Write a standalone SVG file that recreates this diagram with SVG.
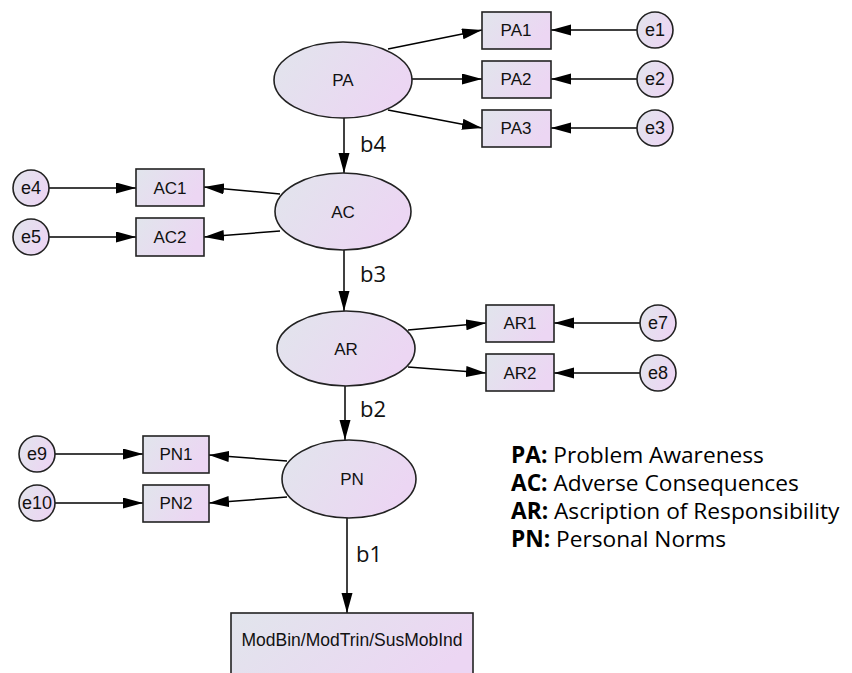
<svg xmlns="http://www.w3.org/2000/svg" width="852" height="673" viewBox="0 0 852 673">
<defs>
<linearGradient id="g" x1="0" y1="0" x2="1" y2="0.4">
<stop offset="0" stop-color="#e1e5ec"/>
<stop offset="1" stop-color="#ecd6f3"/>
</linearGradient>
<marker id="ah" markerUnits="userSpaceOnUse" markerWidth="21" markerHeight="12" refX="20" refY="5.5" orient="auto">
<path d="M0,0 L20,5.5 L0,11 z" fill="#000"/>
</marker>
</defs>
<style>
.n{fill:url(#g);stroke:#222;stroke-width:1.6}
.t{font-family:"Liberation Sans",Arial,sans-serif;font-size:17px;fill:#111;text-anchor:middle}
.te{font-family:"Liberation Sans",Arial,sans-serif;font-size:18px;fill:#111;text-anchor:middle}
.c{stroke:#000;stroke-width:1.5;fill:none;marker-end:url(#ah)}
.b{font-family:"Open Sans","Noto Sans",sans-serif;font-size:22px;fill:#111}
.lg{font-family:"Open Sans","Noto Sans",sans-serif;font-size:22.7px;fill:#000}
</style>
<rect width="852" height="673" fill="#fff"/>
<g id="connectors">
<line class="c" x1="388" y1="49" x2="482" y2="30"/>
<line class="c" x1="412" y1="79" x2="482" y2="79"/>
<line class="c" x1="388" y1="110" x2="482" y2="128"/>
<line class="c" x1="637" y1="30" x2="551" y2="30"/>
<line class="c" x1="637" y1="79" x2="551" y2="79"/>
<line class="c" x1="637" y1="128" x2="551" y2="128"/>
<line class="c" x1="344" y1="117" x2="344" y2="173"/>
<line class="c" x1="49" y1="188" x2="136" y2="188"/>
<line class="c" x1="49" y1="237" x2="136" y2="237"/>
<line class="c" x1="280" y1="194" x2="204" y2="187"/>
<line class="c" x1="280" y1="231" x2="204" y2="237"/>
<line class="c" x1="344" y1="250" x2="344" y2="311"/>
<line class="c" x1="408" y1="330" x2="486" y2="323"/>
<line class="c" x1="408" y1="367" x2="486" y2="373"/>
<line class="c" x1="640" y1="323" x2="554" y2="323"/>
<line class="c" x1="640" y1="373" x2="554" y2="373"/>
<line class="c" x1="345" y1="386" x2="345" y2="440"/>
<line class="c" x1="55" y1="454" x2="143" y2="454"/>
<line class="c" x1="55" y1="503" x2="143" y2="503"/>
<line class="c" x1="287" y1="461" x2="209" y2="455"/>
<line class="c" x1="287" y1="497" x2="209" y2="503"/>
<line class="c" x1="347" y1="517" x2="347" y2="613"/>
<text class="b" x="360" y="152">b4</text>
<text class="b" x="360" y="282">b3</text>
<text class="b" x="360" y="417">b2</text>
<text class="b" x="356" y="562">b1</text>
</g>
<g id="PA"><ellipse class="n" cx="343" cy="80" rx="69" ry="38"/><text class="t" x="343" y="86">PA</text></g>
<g id="PA1"><rect class="n" x="482" y="12" width="69" height="37"/><text class="t" x="516" y="36">PA1</text></g>
<g id="PA2"><rect class="n" x="482" y="61" width="69" height="37"/><text class="t" x="516" y="85">PA2</text></g>
<g id="PA3"><rect class="n" x="482" y="110" width="69" height="37"/><text class="t" x="516" y="134">PA3</text></g>
<g id="e1"><circle class="n" cx="655" cy="30" r="18"/><text class="te" x="655" y="36">e1</text></g>
<g id="e2"><circle class="n" cx="655" cy="79" r="18"/><text class="te" x="655" y="85">e2</text></g>
<g id="e3"><circle class="n" cx="655" cy="128" r="18"/><text class="te" x="655" y="134">e3</text></g>
<g id="AC"><ellipse class="n" cx="343" cy="211.5" rx="68" ry="38.5"/><text class="t" x="343" y="218">AC</text></g>
<g id="AC1"><rect class="n" x="136" y="169" width="68" height="37"/><text class="t" x="170" y="194">AC1</text></g>
<g id="AC2"><rect class="n" x="136" y="218" width="68" height="38"/><text class="t" x="170" y="243">AC2</text></g>
<g id="e4"><circle class="n" cx="31" cy="188" r="18"/><text class="te" x="31" y="194">e4</text></g>
<g id="e5"><circle class="n" cx="31" cy="237" r="18"/><text class="te" x="31" y="243">e5</text></g>
<g id="AR"><ellipse class="n" cx="346" cy="348.5" rx="69" ry="37.5"/><text class="t" x="346" y="355">AR</text></g>
<g id="AR1"><rect class="n" x="486" y="305" width="68" height="37"/><text class="t" x="520" y="329">AR1</text></g>
<g id="AR2"><rect class="n" x="486" y="354" width="68" height="37"/><text class="t" x="520" y="379">AR2</text></g>
<g id="e7"><circle class="n" cx="658" cy="323" r="18"/><text class="te" x="658" y="329">e7</text></g>
<g id="e8"><circle class="n" cx="658" cy="373" r="18"/><text class="te" x="658" y="379">e8</text></g>
<g id="PN"><ellipse class="n" cx="349" cy="479" rx="67" ry="39"/><text class="t" x="352" y="485">PN</text></g>
<g id="PN1"><rect class="n" x="143" y="436" width="66" height="37"/><text class="t" x="176" y="460">PN1</text></g>
<g id="PN2"><rect class="n" x="143" y="485" width="66" height="37"/><text class="t" x="176" y="509">PN2</text></g>
<g id="e9"><circle class="n" cx="37" cy="454" r="18"/><text class="te" x="37" y="460">e9</text></g>
<g id="e10"><circle class="n" cx="37" cy="503" r="18"/><text class="te" x="37" y="509">e10</text></g>
<g id="Outcome"><rect class="n" x="231" y="613" width="242" height="80"/><text class="t" x="352" y="646" style="font-size:17.5px">ModBin/ModTrin/SusMobInd</text></g>
<g id="legend">
<text class="lg" x="511" y="463"><tspan font-weight="bold">PA:</tspan> Problem Awareness</text>
<text class="lg" x="511" y="491"><tspan font-weight="bold">AC:</tspan> Adverse Consequences</text>
<text class="lg" x="511" y="519"><tspan font-weight="bold">AR:</tspan> Ascription of Responsibility</text>
<text class="lg" x="511" y="547"><tspan font-weight="bold">PN:</tspan> Personal Norms</text>
</g>
</svg>
